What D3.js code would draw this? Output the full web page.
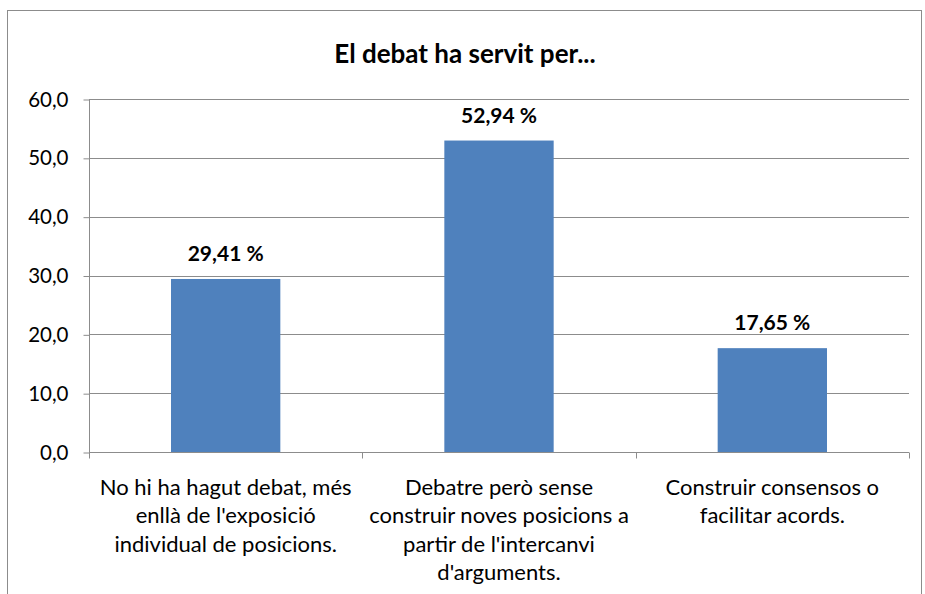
<!DOCTYPE html>
<html>
<head>
<meta charset="utf-8">
<script src="https://cdn.jsdelivr.net/npm/d3@7"></script>
<style>
  body { margin: 0; background: #fff; }
  text { font-family: Lato, "Open Sans", sans-serif; fill: #000; }
</style>
</head>
<body>
<div id="container"></div>
<script>
/* CONSTANTS AND GLOBALS */
const width = 925,
  height = 594,
  margin = { left: 89, top: 99, bottom: 142, right: 16 };

/* DATA */
const categories = [
  "No hi ha hagut debat, més\nenllà de l'exposició\nindividual de posicions.",
  "Debatre però sense\nconstruir noves posicions a\npartir de l'intercanvi\nd'arguments.",
  "Construir consensos o\nfacilitar acords."
];
const values = [29.41, 52.94, 17.65];
const yTicks = [0, 10, 20, 30, 40, 50, 60];
const title = "El debat ha servit per...";

const data = categories.map((c, i) => ({ cat: c, value: values[i] }));

// SCALES
const xScale = d3.scaleBand()
  .domain(categories)
  .range([margin.left, width - margin.right])
  .paddingInner(0.6)
  .paddingOuter(0.3);

const yScale = d3.scaleLinear()
  .domain([0, 60])
  .range([height - margin.bottom, margin.top]);

// CREATE SVG ELEMENT
const svg = d3.select("#container")
  .append("svg")
  .attr("width", width)
  .attr("height", height);

// outer frame
svg.append("rect")
  .attr("x", 7.5).attr("y", 10.5)
  .attr("width", 914).attr("height", 600)
  .attr("fill", "none")
  .attr("stroke", "#8c8c8c");

// title
svg.append("text")
  .attr("x", 465).attr("y", 63)
  .attr("text-anchor", "middle")
  .style("font-size", "26px")
  .style("font-weight", "bold")
  .text(title);

// gridlines
svg.append("g")
  .selectAll("line")
  .data(yTicks.filter(d => d > 0))
  .join("line")
  .attr("x1", margin.left).attr("x2", width - margin.right)
  .attr("y1", d => Math.round(yScale(d)) + 0.5)
  .attr("y2", d => Math.round(yScale(d)) + 0.5)
  .attr("stroke", "#8c8c8c");

// BARS
svg.append("g")
  .selectAll("rect")
  .data(data)
  .join("rect")
  .attr("x", d => xScale(d.cat))
  .attr("width", xScale.bandwidth())
  .attr("y", d => yScale(d.value))
  .attr("height", d => yScale(0) - yScale(d.value))
  .attr("fill", "#4f81bd");

// value labels
svg.append("g")
  .selectAll("text")
  .data(data)
  .join("text")
  .attr("x", d => xScale(d.cat) + xScale.bandwidth() / 2)
  .attr("y", d => yScale(d.value) - 18)
  .attr("text-anchor", "middle")
  .style("font-size", "21px")
  .style("font-weight", "bold")
  .text(d => d.value.toFixed(2).replace(".", ",") + " %");

// Y AXIS
const yAxis = d3.axisLeft(yScale)
  .tickValues(yTicks)
  .tickSize(6)
  .tickPadding(15)
  .tickFormat(d => d3.format(".1f")(d).replace(".", ","));

const gy = svg.append("g")
  .attr("transform", `translate(${margin.left + 0.5},0.5)`)
  .call(yAxis);
gy.select(".domain").attr("stroke", "#8c8c8c").attr("d", `M0,${yScale(60)}V${yScale(0)}`);
gy.selectAll(".tick line").attr("stroke", "#8c8c8c");
gy.selectAll(".tick text").style("font-size", "20.5px");

// X AXIS (category boundaries)
const step = (width - margin.right - margin.left) / categories.length;

const gx = svg.append("g")
  .attr("transform", `translate(0,${Math.round(yScale(0)) + 0.5})`);
gx.append("line")
  .attr("x1", margin.left).attr("x2", width - margin.right)
  .attr("stroke", "#8c8c8c");
gx.selectAll(".sep")
  .data(d3.range(categories.length + 1))
  .join("line")
  .attr("x1", i => Math.round(margin.left + i * step) + 0.5)
  .attr("x2", i => Math.round(margin.left + i * step) + 0.5)
  .attr("y1", 0).attr("y2", 6)
  .attr("stroke", "#8c8c8c");

// category labels
const lab = gx.selectAll(".lab")
  .data(categories)
  .join("text")
  .attr("text-anchor", "middle")
  .attr("transform", d => `translate(${xScale(d) + xScale.bandwidth() / 2},42)`)
  .style("font-size", "22px");
lab.selectAll("tspan")
  .data(d => d.split("\n"))
  .join("tspan")
  .attr("x", 0)
  .attr("dy", (d, i) => i === 0 ? 0 : 28.5)
  .text(d => d);
</script>
</body>
</html>
